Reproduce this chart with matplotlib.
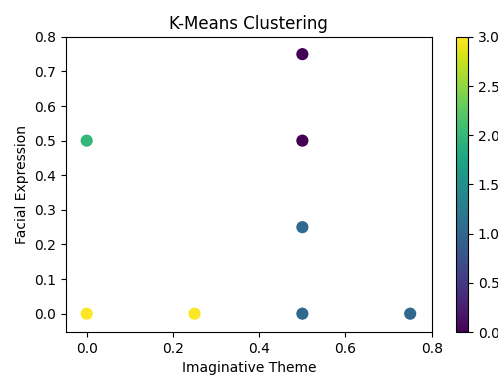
import matplotlib
matplotlib.use('Agg')
import matplotlib.pyplot as plt

# 数据：每个点的坐标和所属簇
imaginative_theme = [0.5, 0.5, 0.0, 0.5, 0.0, 0.25, 0.5, 0.75]
facial_expression = [0.75, 0.5, 0.5, 0.25, 0.0, 0.0, 0.0, 0.0]
cluster_labels = [0, 0, 2, 1, 3, 3, 1, 1]

fig = plt.figure(figsize=(4.98, 3.76), dpi=100)
ax = fig.add_axes([0.1325, 0.117, 0.7345, 0.785])
cax = fig.add_axes([0.9157, 0.117, 0.024, 0.785])

sc = ax.scatter(imaginative_theme, facial_expression, c=cluster_labels, s=60, cmap='viridis')
ax.set_xlim(-0.048, 0.8)
ax.set_ylim(-0.053, 0.8)
ax.set_title('K-Means Clustering')
ax.set_xlabel('Imaginative Theme')
ax.set_ylabel('Facial Expression')

fig.colorbar(sc, cax=cax)

fig.savefig('out.png')
